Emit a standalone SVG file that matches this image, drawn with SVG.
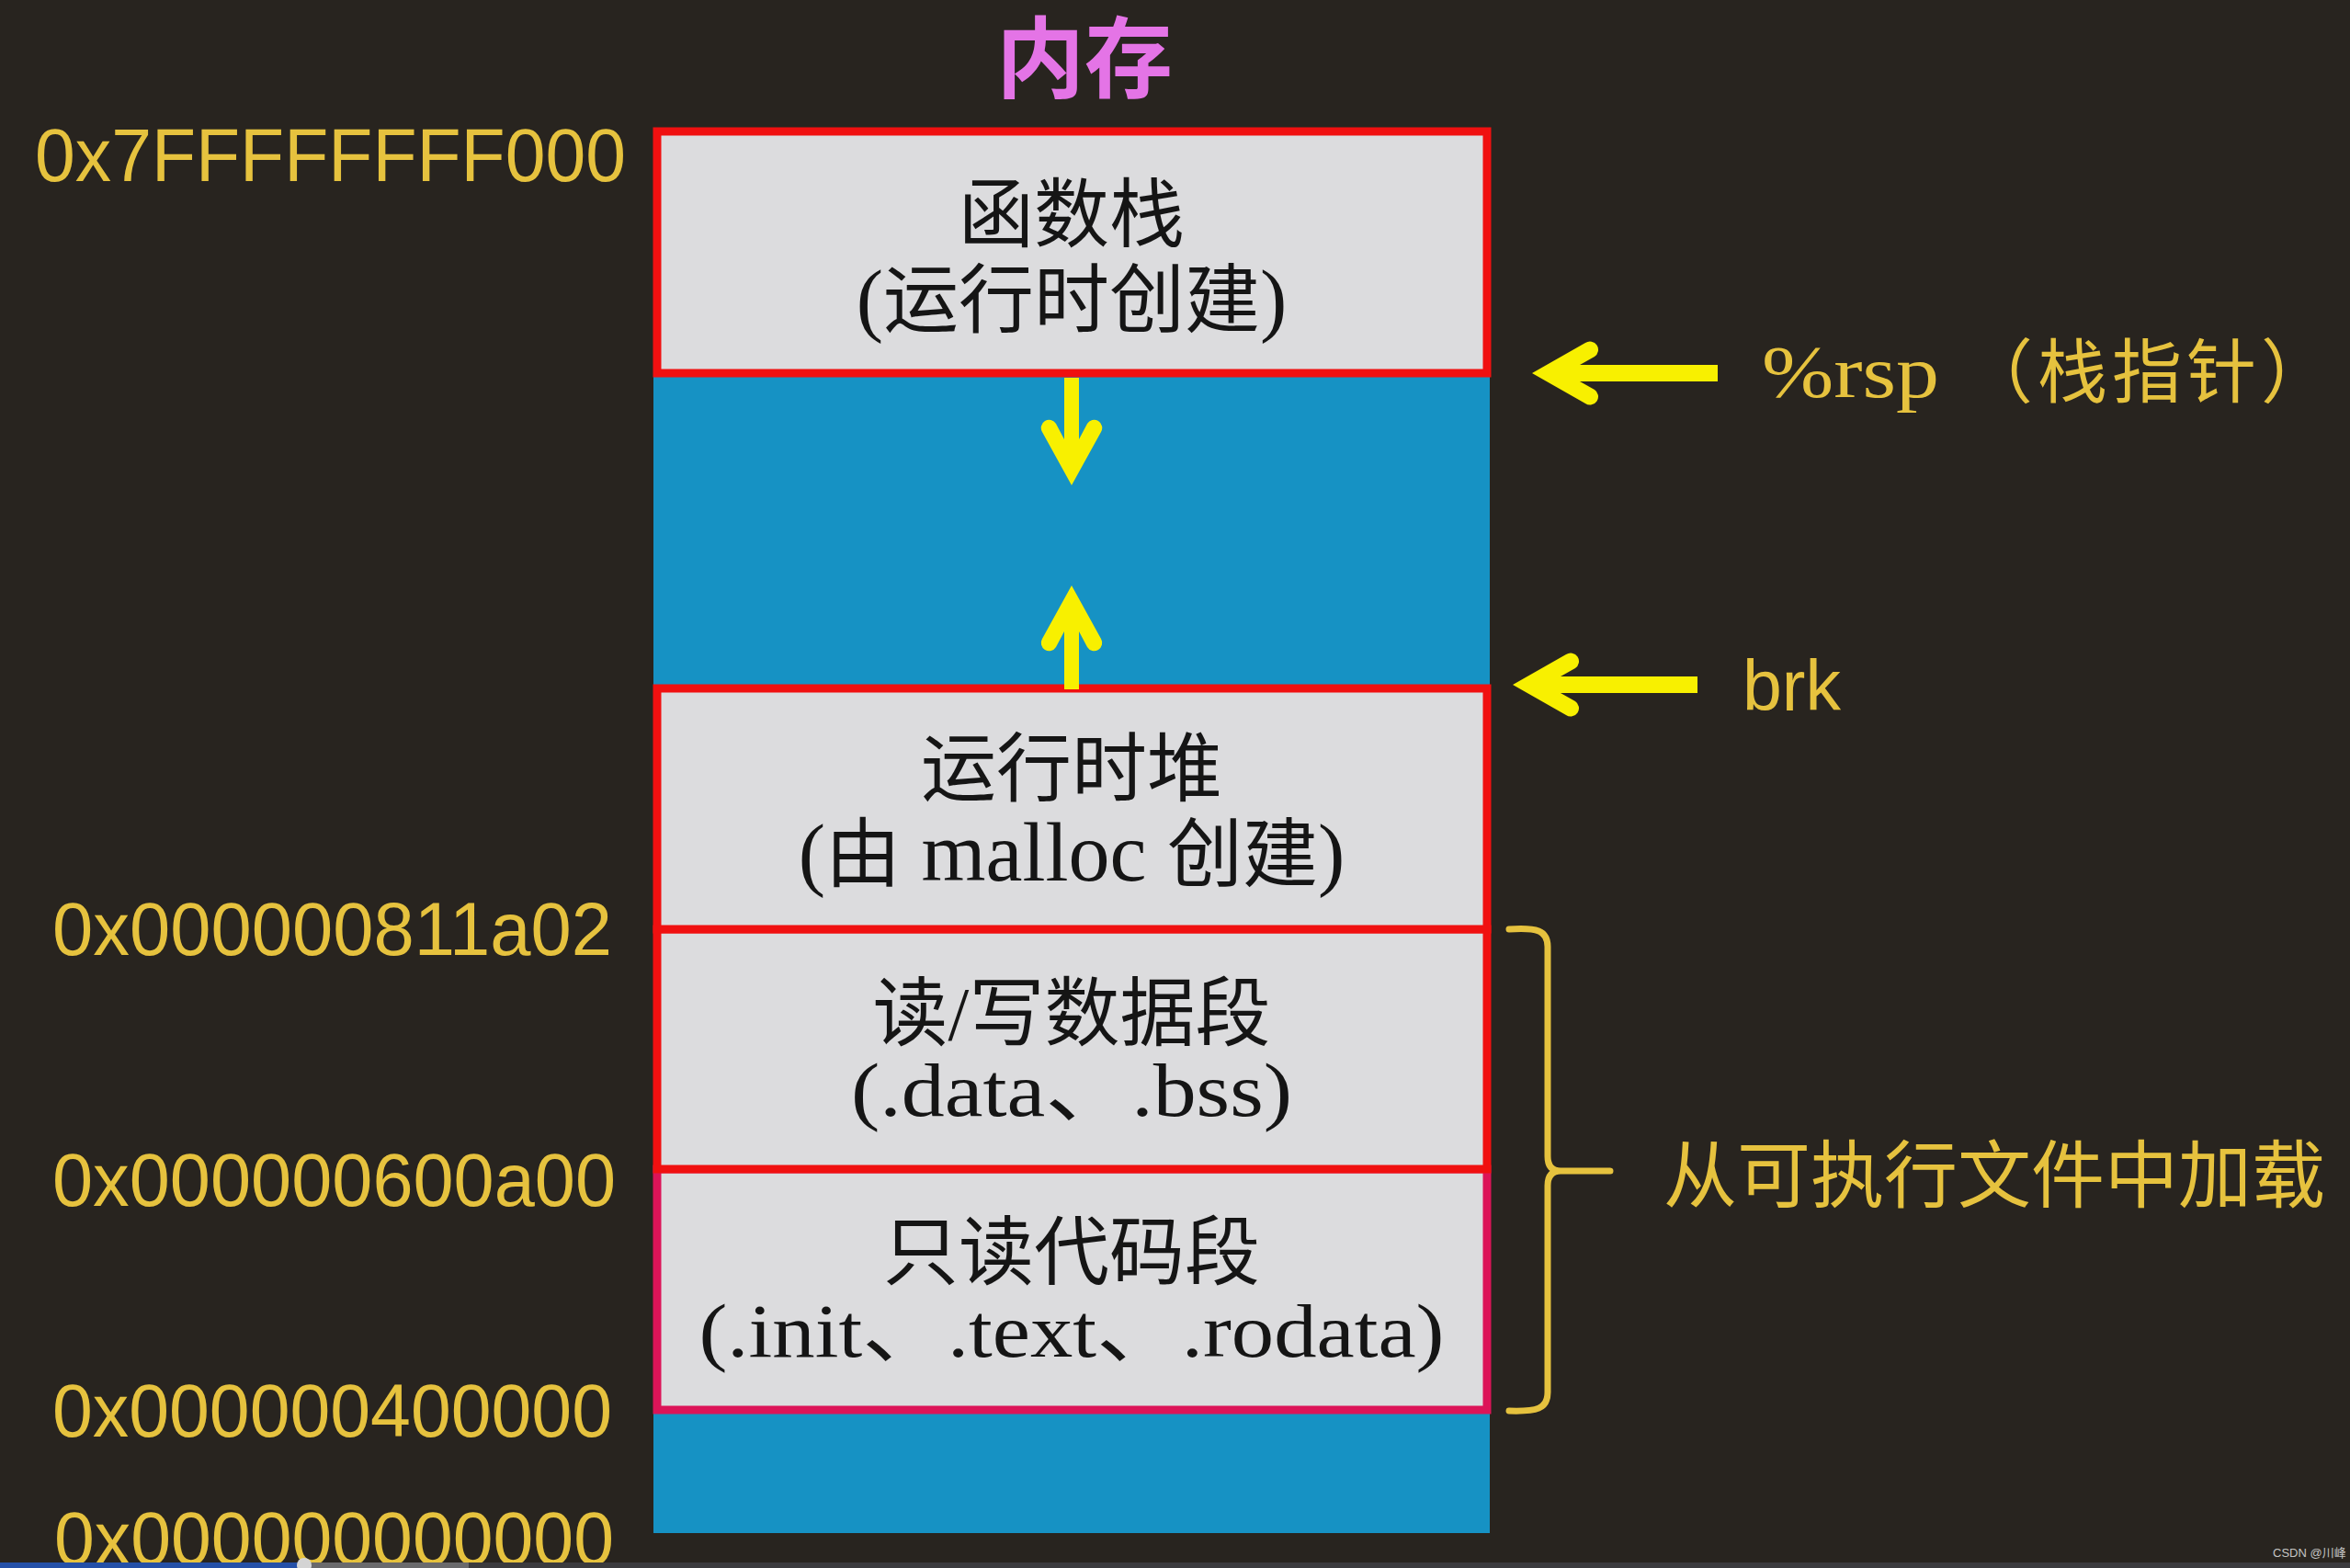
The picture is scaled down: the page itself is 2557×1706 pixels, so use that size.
<svg xmlns="http://www.w3.org/2000/svg" width="2557" height="1706" viewBox="0 0 2557 1706">
<style>
.seg{fill:#dcdcde;stroke:#f01010;stroke-width:9}
.code{stroke:#dc1458}
.free{fill:#1692c4}
.addr{font-family:"Liberation Sans",Arial,sans-serif;font-size:82px;fill:#e6c23e}
.lbl{fill:#e6c23e}
.box{font-family:"Liberation Serif","Noto Sans CJK SC",serif;font-size:82px;fill:#151515;text-anchor:middle}
.arrow{fill:#f8f000}
.brace{fill:none;stroke:#e6c23e;stroke-width:7;stroke-linecap:round;stroke-linejoin:round}
</style>
<rect x="0" y="0" width="2557" height="1706" fill="#28241f"/>

<g id="title">
<text x="1180" y="98" font-family="Noto Sans CJK SC, sans-serif" font-size="96" font-weight="bold" fill="#e474e6" text-anchor="middle">内存</text>
</g>

<g id="free-bottom"><rect class="free" x="711" y="1536" width="910" height="132"/></g>
<g id="free-middle"><rect class="free" x="711" y="410" width="910" height="336"/></g>

<g id="code-segment">
<rect class="seg code" x="715" y="1272" width="903" height="262"/>
<text class="box" x="1166" y="1391">只读代码段</text>
<text class="box" x="1166" y="1476" font-size="92" textLength="811" lengthAdjust="spacingAndGlyphs">(.init、.text、.rodata)</text>
</g>

<g id="data-segment">
<rect class="seg" x="715" y="1011" width="903" height="261"/>
<text class="box" x="1166" y="1131">读/写数据段</text>
<text class="box" x="1166" y="1214" font-size="92" textLength="480" lengthAdjust="spacingAndGlyphs">(.data、.bss)</text>
</g>

<g id="heap">
<rect class="seg" x="715" y="749" width="903" height="262"/>
<text class="box" x="1166" y="865">运行时堆</text>
<text class="box" x="1166" y="958"><tspan font-size="88">(</tspan>由<tspan font-size="90"> malloc </tspan>创建<tspan font-size="88">)</tspan></text>
</g>

<g id="stack">
<rect class="seg" x="715" y="143" width="903" height="263"/>
<text class="box" x="1166" y="262">函数栈</text>
<text class="box" x="1166" y="355"><tspan font-size="88">(</tspan>运行时创建<tspan font-size="88">)</tspan></text>
</g>

<g id="addresses">
<text class="addr" x="38" y="197" font-size="83" textLength="643" lengthAdjust="spacingAndGlyphs">0x7FFFFFFFF000</text>
<text class="addr" x="57" y="1039" textLength="609" lengthAdjust="spacingAndGlyphs">0x000000811a02</text>
<text class="addr" x="57" y="1312" textLength="613" lengthAdjust="spacingAndGlyphs">0x000000600a00</text>
<text class="addr" x="57" y="1563" textLength="609" lengthAdjust="spacingAndGlyphs">0x000000400000</text>
<text class="addr" x="59" y="1702" textLength="609" lengthAdjust="spacingAndGlyphs">0x000000000000</text>
</g>

<g id="rsp-label">
<text class="lbl" y="432"><tspan x="1917" font-family="Liberation Serif, serif" font-size="80" textLength="193" lengthAdjust="spacingAndGlyphs">%rsp</tspan><tspan x="2136" font-family="Noto Sans CJK SC, sans-serif" font-size="76" letter-spacing="5">（栈指针）</tspan></text>
</g>

<g id="brk-label">
<text class="lbl" x="1896" y="773" font-family="Liberation Sans, Arial, sans-serif" font-size="77">brk</text>
</g>

<g id="load-label">
<text class="lbl" x="1810" y="1307" font-family="Noto Sans CJK SC, sans-serif" font-size="80">从可执行文件中加载</text>
</g>

<g id="connectors">
<path class="arrow" transform="translate(1667,406)" d="M0,0 L58,-33 A9,9 0 0 1 68,-18 L52,-9 L202,-9 L202,9 L52,9 L68,18 A9,9 0 0 1 58,33 Z"/>
<path class="arrow" transform="translate(1646,745)" d="M0,0 L58,-33 A9,9 0 0 1 68,-18 L52,-9 L201,-9 L201,9 L52,9 L68,18 A9,9 0 0 1 58,33 Z"/>
<path class="arrow" transform="translate(1166,528) rotate(-90)" d="M0,0 L58,-32 A8.5,8.5 0 0 1 67,-17 L50,-8 L117,-8 L117,8 L50,8 L67,17 A8.5,8.5 0 0 1 58,32 Z"/>
<path class="arrow" transform="translate(1166,637) rotate(90)" d="M0,0 L58,-32 A8.5,8.5 0 0 1 67,-17 L50,-8 L113,-8 L113,8 L50,8 L67,17 A8.5,8.5 0 0 1 58,32 Z"/>
<path class="brace" d="M1642,1011 C1672,1009 1684,1012 1684,1030 L1684,1258 Q1684,1274 1698,1274 L1752,1274 M1698,1274 Q1684,1274 1684,1290 L1684,1515 C1684,1533 1672,1536 1642,1535"/>
</g>

<g id="footer">
<text x="2473" y="1694" font-family="Liberation Sans, Noto Sans CJK SC, sans-serif" font-size="13" fill="#c4c4c4">CSDN @川峰</text>
<rect x="0" y="1700" width="2557" height="6" fill="#3b3b3e"/>
<rect x="331" y="1700" width="179" height="6" fill="#6a6a6c"/>
<rect x="0" y="1700" width="325" height="6" fill="#2450a8"/>
<circle cx="331" cy="1703" r="8" fill="#d4d4d4"/>
</g>
</svg>
